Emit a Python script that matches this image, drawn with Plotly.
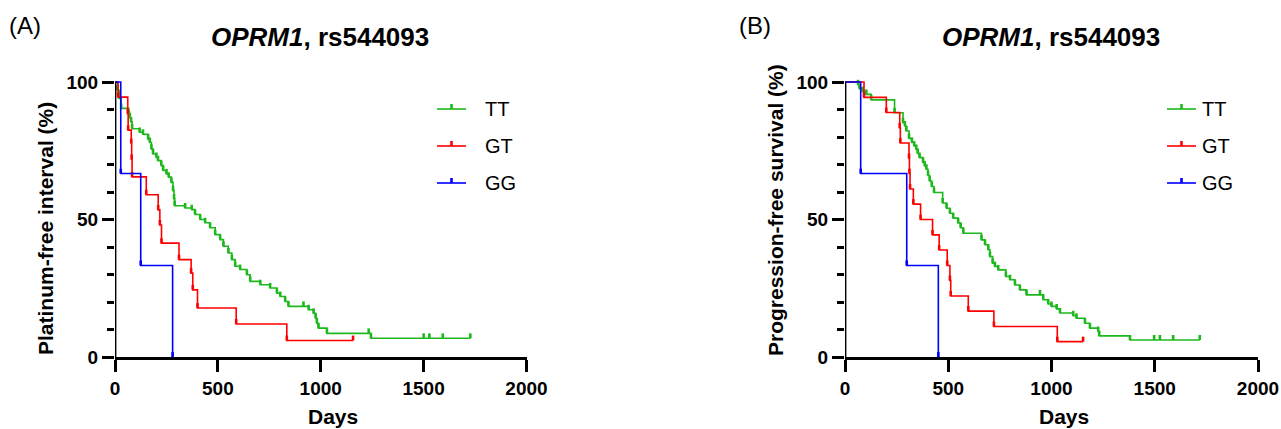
import plotly.graph_objects as go

W, H = 1281, 429

# ---------------- data ----------------
# Panel A: Platinum-free interval
TT_A_days = [0, 12, 20, 30, 67, 72, 78, 83, 120, 136, 161, 169, 177, 185, 201, 209, 225, 234, 250, 261,
             274, 282, 287, 290, 341, 373, 389, 414, 438, 462, 487, 511, 527, 551, 568, 584, 608, 641,
             657, 706, 754, 787, 803, 827, 843, 941, 965, 975, 981, 989, 1030, 1244]
TT_A_surv = [100, 97, 94, 90.4, 88, 87, 85.5, 83, 81.7, 81, 79.2, 78, 75.6, 73.8, 72.6, 71.4, 69.6, 67.8,
             66.6, 65.4, 63.5, 60.5, 57.5, 55, 54.2, 53.6, 51.8, 50, 48.8, 47, 44.5, 42.7, 40.3, 37.8,
             35.4, 33, 31.8, 29.9, 27.5, 26.3, 25.1, 23.2, 22, 20.2, 18.4, 17.2, 15.9, 14.1, 12.3, 10.5,
             8.6, 6.8]
TT_A_last = 1727
TT_A_censored = [916, 1233, 1500, 1528, 1593, 1727]

GT_A_days = [0, 15, 62, 64, 79, 81, 83, 152, 210, 218, 226, 311, 370, 378, 401, 589, 835]
GT_A_surv = [100, 94.5, 88.5, 82.5, 77.7, 71.8, 65.5, 59, 53.5, 48, 41.4, 35.4, 30.5, 24.4, 17.8, 12, 6]
GT_A_last = 1157
GT_A_censored = [1157]

GG_A_days = [0, 28, 125, 280]
GG_A_surv = [100, 66.7, 33.3, 0]
GG_A_last = 280
GG_A_censored = []

# Panel B: Progression-free survival
TT_B_days = [0, 63, 70, 85, 103, 127, 240, 281, 290, 297, 310, 324, 335, 345, 352, 361, 378, 386, 394,
             402, 410, 420, 431, 473, 492, 508, 524, 548, 560, 573, 661, 678, 694, 702, 715, 726, 742,
             779, 799, 823, 847, 879, 960, 984, 1000, 1025, 1041, 1105, 1121, 1162, 1186, 1226, 1231, 1380]
TT_B_surv = [100, 99, 97.6, 96.5, 95.5, 93.5, 88.8, 85.2, 84, 82.2, 79.5, 78, 76.7, 75.5, 74, 72.5, 70.7,
             69.5, 68.3, 66, 64, 62, 59.8, 56, 54.1, 52.3, 50.5, 48.7, 47, 45, 42.6, 40.8, 39, 36.5, 34.1,
             32.9, 31.7, 29.3, 28.1, 26.2, 24.4, 22.6, 20.8, 19.3, 18.4, 17.5, 16, 15, 14.1, 12.3, 10.5,
             9.3, 7.7, 6.2]
TT_B_last = 1718
TT_B_censored = [944, 1497, 1525, 1589, 1718]

GT_B_days = [0, 92, 200, 265, 268, 310, 312, 315, 331, 366, 424, 456, 495, 508, 512, 597, 721, 1028]
GT_B_surv = [100, 94.4, 88.9, 83.3, 77.8, 72.2, 66.7, 61.1, 55.6, 50, 44.4, 38.9, 33.3, 27.8, 22.2,
             16.7, 11.1, 5.6]
GT_B_last = 1153
GT_B_censored = [1153]

GG_B_days = [0, 76, 299, 452]
GG_B_surv = [100, 66.7, 33.3, 0]
GG_B_last = 452
GG_B_censored = []

GROUPS = ["TT", "GT", "GG"]
COLORS = {"TT": "#1cb81c", "GT": "#ff0000", "GG": "#0000ff"}

X_TICKS = [0, 500, 1000, 1500, 2000]
Y_TICKS = [0, 50, 100]

PANELS = [
    dict(letter="(A)", ytitle="Platinum-free interval (%)", ytitle_y=229, xa="x", ya="y",
         curves={"TT": (TT_A_days, TT_A_surv, TT_A_last, TT_A_censored),
                 "GT": (GT_A_days, GT_A_surv, GT_A_last, GT_A_censored),
                 "GG": (GG_A_days, GG_A_surv, GG_A_last, GG_A_censored)}),
    dict(letter="(B)", ytitle="Progression-free survival (%)", ytitle_y=210, xa="x2", ya="y2",
         curves={"TT": (TT_B_days, TT_B_surv, TT_B_last, TT_B_censored),
                 "GT": (GT_B_days, GT_B_surv, GT_B_last, GT_B_censored),
                 "GG": (GG_B_days, GG_B_surv, GG_B_last, GG_B_censored)}),
]

# ---------------- layout geometry (pixels) ----------------
PX_PER_PCT = 2.75
Y0_PX = 357            # y = 0
Y_TOP_VAL = 104
X_LEFT = [115, 845]    # x = 0
X_RIGHT = [526.5, 1258]
TICK_H = 1.8           # censor tick height in %

FONT = "Liberation Sans, Arial, sans-serif"


def px(x):
    return x / W


def py(y):
    return 1 - y / H


def surv_at(days, surv, t):
    s = surv[0]
    for d, v in zip(days, surv):
        if d <= t:
            s = v
    return s


fig = go.Figure()

for p in PANELS:
    for g in GROUPS:
        days, surv, last, cens = p["curves"][g]
        xs = list(days) + [last]
        ys = list(surv) + [surv[-1]]
        fig.add_trace(go.Scatter(x=xs, y=ys, mode="lines", line=dict(color=COLORS[g], width=1.6, shape="hv"),
                                 xaxis=p["xa"], yaxis=p["ya"], hoverinfo="skip", showlegend=False))
        tx, ty = [], []
        pts = [(days[i], surv[i]) for i in range(1, len(days))]
        pts += [(c, surv_at(days, surv, c)) for c in cens]
        for t, s in pts:
            tx += [t, t, None]
            ty += [s, s + TICK_H, None]
        fig.add_trace(go.Scatter(x=tx, y=ty, mode="lines", line=dict(color=COLORS[g], width=2.6),
                                 xaxis=p["xa"], yaxis=p["ya"], hoverinfo="skip", showlegend=False))

y_dom = [py(Y0_PX), py(Y0_PX - Y_TOP_VAL * PX_PER_PCT)]

axis_common_x = dict(range=[0, 2000], tickvals=X_TICKS, ticks="outside", ticklen=12, tickwidth=2.6,
                     tickcolor="black", showline=True, linewidth=2.8, linecolor="black", showgrid=False,
                     zeroline=False, automargin=False,
                     tickfont=dict(family=FONT, size=19, color="black", weight="bold"))
axis_common_y = dict(range=[0, Y_TOP_VAL], tickvals=Y_TICKS, ticks="outside", ticklen=12, tickwidth=2.6,
                     tickcolor="black", showline=False, showgrid=False, zeroline=False, automargin=False,
                     minor=dict(dtick=10, ticks="outside", ticklen=7, tickwidth=2.6, tickcolor="black",
                                showgrid=False),
                     tickfont=dict(family=FONT, size=19, color="black", weight="bold"), domain=y_dom)

fig.update_layout(
    template="none",
    width=W, height=H, autosize=False,
    margin=dict(l=0, r=0, t=0, b=0, pad=0),
    paper_bgcolor="white", plot_bgcolor="white",
    showlegend=False,
    xaxis=dict(domain=[px(X_LEFT[0]), px(X_RIGHT[0])], anchor="y", **axis_common_x),
    yaxis=dict(anchor="x", **axis_common_y),
    xaxis2=dict(domain=[px(X_LEFT[1]), px(X_RIGHT[1])], anchor="y2", **axis_common_x),
    yaxis2=dict(anchor="x2", **axis_common_y),
)

shapes = []
annotations = []
for k, p in enumerate(PANELS):
    # y axis line (0..100 only)
    shapes.append(dict(type="line", xref=p["xa"], yref=p["ya"], x0=0, x1=0, y0=0, y1=100,
                       line=dict(color="black", width=2.8), layer="above"))
    x0 = X_LEFT[k]
    xc = (X_LEFT[k] + X_RIGHT[k]) / 2
    # panel letter
    annotations.append(dict(text=p["letter"], x=px(7 + 730 * k), y=py(26), xref="paper", yref="paper",
                            xanchor="left", yanchor="middle", showarrow=False,
                            font=dict(family=FONT, size=24, color="black")))
    # title
    annotations.append(dict(text="<b><i>OPRM1</i>, rs544093</b>", x=px(xc - 1), y=py(37), xref="paper",
                            yref="paper", xanchor="center", yanchor="middle", showarrow=False,
                            font=dict(family=FONT, size=26, color="black")))
    # axis titles
    annotations.append(dict(text="<b>Days</b>", x=px(xc + 12), y=py(416), xref="paper", yref="paper",
                            xanchor="center", yanchor="middle", showarrow=False,
                            font=dict(family=FONT, size=21, color="black")))
    annotations.append(dict(text="<b>" + p["ytitle"] + "</b>", x=px(x0 - 70), y=py(p["ytitle_y"]),
                            xref="paper", yref="paper", xanchor="center", yanchor="middle", showarrow=False,
                            textangle=-90, font=dict(family=FONT, size=21, color="black")))
    # legend
    lx0 = x0 + 322
    tx = x0 + 368 if k == 0 else x0 + 355
    for j, g in enumerate(GROUPS):
        ly = 109 + 37 * j
        shapes.append(dict(type="line", xref="paper", yref="paper", x0=px(lx0), x1=px(lx0 + 29),
                           y0=py(ly), y1=py(ly), line=dict(color=COLORS[g], width=1.6)))
        shapes.append(dict(type="line", xref="paper", yref="paper", x0=px(lx0 + 14.5), x1=px(lx0 + 14.5),
                           y0=py(ly), y1=py(ly - 5), line=dict(color=COLORS[g], width=2.6)))
        annotations.append(dict(text=g, x=px(tx), y=py(ly), xref="paper", yref="paper", xanchor="left",
                                yanchor="middle", showarrow=False,
                                font=dict(family=FONT, size=20, color="black")))

fig.update_layout(shapes=shapes, annotations=annotations)

fig.write_html("out.html", config={"displayModeBar": False, "responsive": False},
               post_script="document.body.style.margin='0';document.body.style.padding='0';")
